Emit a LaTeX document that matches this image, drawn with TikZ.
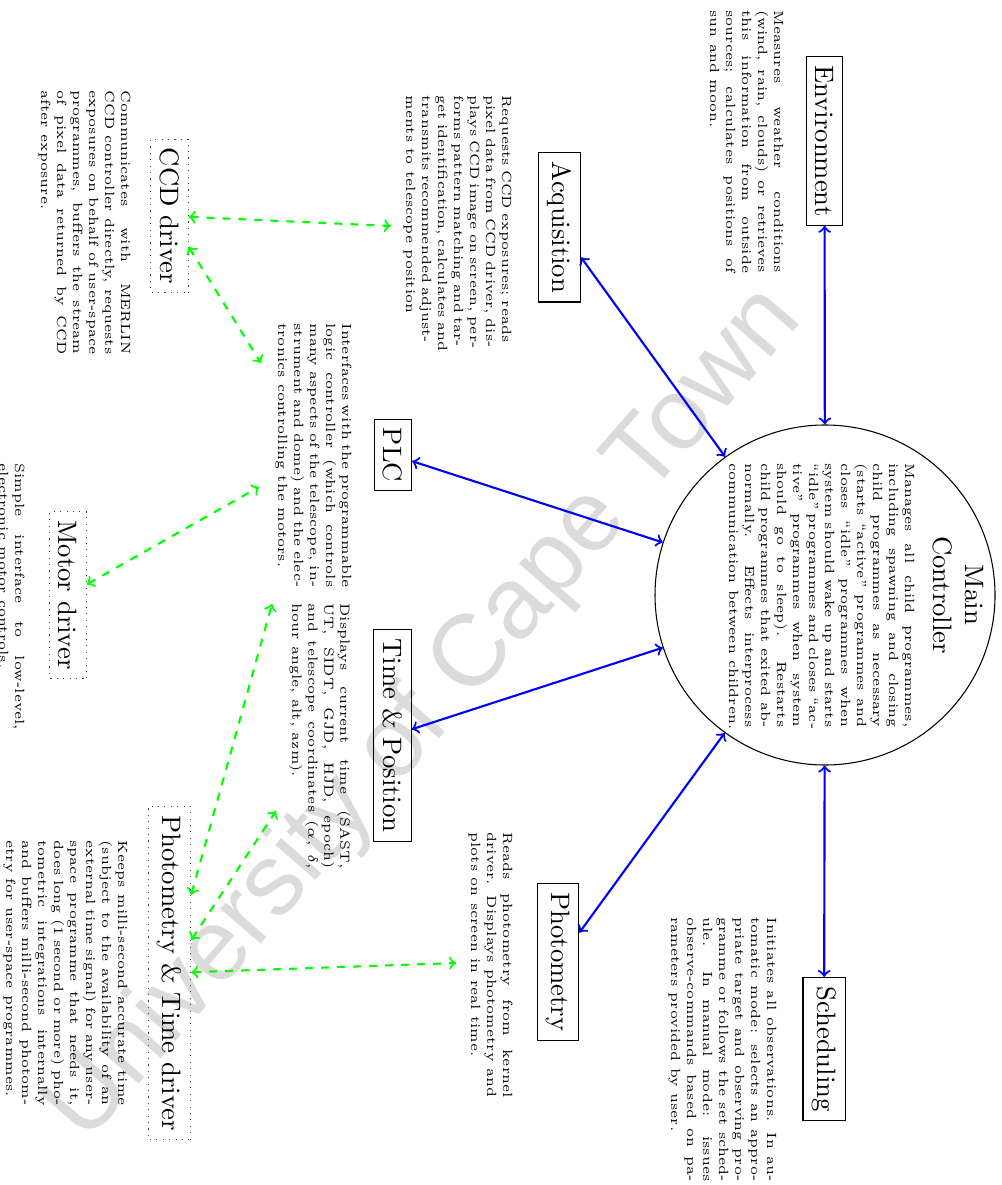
\documentclass[tikz,border=0pt]{standalone}
\usepackage{fontspec}
\newfontfamily\wmfont{Liberation Sans}
\newcommand\jl[1]{\hbox to\hsize{#1}}
\newcommand\lastl[1]{\hbox{#1}}
\newcommand\dlines[2]{\vbox{\hsize=#1\relax #2}}
\begin{document}
\begin{tikzpicture}[x=0.375pt,y=-0.375pt,
  box/.style={draw, rotate=-90, font=\normalsize},
  dbox/.style={draw=black!75, dotted, rotate=-90, font=\normalsize},
  desc/.style={rotate=-90, inner sep=0pt, font=\tiny, anchor=north west},
  blink/.style={blue, thick, <->},
  glink/.style={green, thick, dashed, <->}]
\useasboundingbox (0,0) rectangle (1001,1185);
% watermark
\node[rotate=49, text=black!14, font=\wmfont\fontsize{38}{40}\selectfont, inner sep=0pt] (wm) at (425,715) {University of Cape Town};
% main controller
\node[circle, draw, minimum size=127.5pt, inner sep=0pt] (main) at (825,595) {};
\node[rotate=-90, anchor=north, inner sep=0pt, align=center] (maint) at (984,595) {Main\\Controller};
\node[desc] (maind) at (915,463) {\dlines{99pt}{%
\jl{Manages all child programmes,}
\jl{including spawning and closing}
\jl{child programmes as necessary}
\jl{(starts ``active'' programmes and}
\jl{closes ``idle'' programmes when}
\jl{system should wake up and starts}
\jl{``idle'' programmes and closes ``ac-}
\jl{tive'' programmes when system}
\jl{should go to sleep). Restarts}
\jl{child programmes that exited ab-}
\jl{normally. Effects interprocess}
\lastl{communication between children.}}};
% boxes
\node[box] (env) at (824.5,141) {Environment};
\node[box] (acq) at (559.5,227.5) {Acquisition};
\node[box] (plc) at (393,455) {PLC};
\node[box] (tp) at (392.5,735.5) {Time \& Position};
\node[box] (phot) at (558,962) {Photometry};
\node[box] (sched) at (824,1049) {Scheduling};
\node[dbox] (ccd) at (169.5,216) {CCD driver};
\node[dbox] (motor) at (68,595) {Motor driver};
\node[dbox] (ptd) at (169.5,973) {Photometry \& Time driver};
% descriptions
\node[desc] (envd) at (784,10) {\dlines{98.5pt}{%
\jl{Measures weather conditions}
\jl{(wind, rain, clouds) or retrieves}
\jl{this information from outside}
\jl{sources; calculates positions of}
\lastl{sun and moon.}}};
\node[desc] (acqd) at (512,95) {\dlines{82pt}{%
\jl{Requests CCD exposures; reads}
\jl{pixel data from CCD driver, dis-}
\jl{plays CCD image on screen, per-}
\jl{forms pattern matching and tar-}
\jl{get identification, calculates and}
\jl{transmits recommended adjust-}
\lastl{ments to telescope position}}};
\node[desc] (ccdd) at (131,90) {\dlines{99pt}{%
\jl{Communicates with MERLIN}
\jl{CCD controller directly, requests}
\jl{exposures on behalf of user-space}
\jl{programmes, buffers the stream}
\jl{of pixel data returned by CCD}
\lastl{after exposure.}}};
\node[desc] (plcd) at (352,323) {\dlines{99pt}{%
\jl{Interfaces with the programmable}
\jl{logic controller (which controls}
\jl{many aspects of the telescope, in-}
\jl{strument and dome) and the elec-}
\lastl{tronics controlling the motors.}}};
\node[desc] (tpd) at (351,603) {\dlines{99.5pt}{%
\jl{Displays current time (SAST,}
\jl{UT, SIDT, GJD, HJD, epoch)}
\jl{and telescope coordinates ($\alpha$, $\delta$,}
\lastl{hour angle, alt, azm).}}};
\node[desc] (photd) at (513,832) {\dlines{99.5pt}{%
\jl{Reads photometry from kernel}
\jl{driver. Displays photometry and}
\lastl{plots on screen in real time.}}};
\node[desc] (schedd) at (777,917) {\dlines{99pt}{%
\jl{Initiates all observations. In au-}
\jl{tomatic mode: selects an appro-}
\jl{priate target and observing pro-}
\jl{gramme or follows the set sched-}
\jl{ule. In manual mode: issues}
\jl{observe-commands based on pa-}
\lastl{rameters provided by user.}}};
\node[desc] (motord) at (25,463) {\dlines{100pt}{%
\jl{Simple interface to low-level,}
\lastl{electronic motor controls.}}};
\node[desc] (ptdd) at (128,840) {\dlines{99.5pt}{%
\jl{Keeps milli-second accurate time}
\jl{(subject to the availability of an}
\jl{external time signal) for any user-}
\jl{space programme that needs it,}
\jl{does long (1 second or more) pho-}
\jl{tometric integrations internally}
\jl{and buffers milli-second photom-}
\lastl{etry for user-space programmes.}}};
% blue links
\draw[blink] (env) -- (main);
\draw[blink] (acq) -- (main);
\draw[blink] (plc) -- (main);
\draw[blink] (tp) -- (main);
\draw[blink] (phot) -- (main);
\draw[blink] (sched) -- (main);
% green links
\coordinate (gacq) at (391,226);
\coordinate (gplc1) at (261,363);
\coordinate (gplc2) at (259,487);
\coordinate (gtp1) at (272,604);
\coordinate (gtp2) at (276,811);
\coordinate (gphot) at (456,963);
\draw[glink] (ccd) -- (gacq);
\draw[glink] (ccd) -- (gplc1);
\draw[glink] (motor) -- (gplc2);
\draw[glink] (ptd) -- (gtp1);
\draw[glink] (ptd) -- (gtp2);
\draw[glink] (ptd) -- (gphot);
\end{tikzpicture}
\end{document}
